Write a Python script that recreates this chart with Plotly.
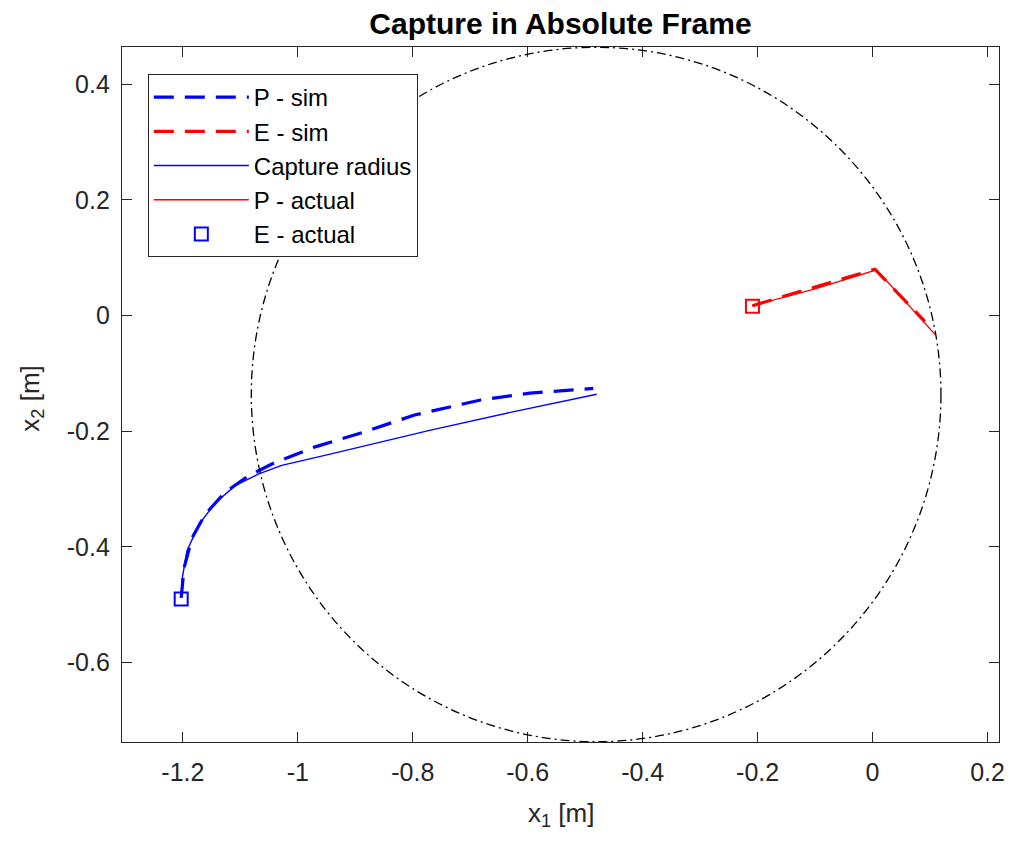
import plotly.graph_objects as go

# ---- data ----
p_sim_x = [-1.203, -1.198, -1.184, -1.161, -1.126, -1.086, -1.040, -0.970, -0.884, -0.797, -0.682, -0.596, -0.486]
p_sim_y = [-0.488, -0.436, -0.384, -0.343, -0.305, -0.277, -0.254, -0.227, -0.201, -0.172, -0.146, -0.134, -0.126]

p_act_x = [-1.203, -1.201, -1.193, -1.172, -1.143, -1.109, -1.069, -1.028, -0.942, -0.769, -0.624, -0.480]
p_act_y = [-0.488, -0.453, -0.407, -0.361, -0.323, -0.294, -0.274, -0.259, -0.239, -0.198, -0.166, -0.136]

e_sim_x = [-0.209, -0.100, 0.004, 0.091]
e_sim_y = [0.017, 0.049, 0.080, -0.010]

e_act_x = [-0.209, -0.100, 0.007, 0.109]
e_act_y = [0.017, 0.046, 0.079, -0.033]

p_start = (-1.203, -0.490)
e_start = (-0.209, 0.016)

capture_center = (-0.481, -0.1365)
capture_radius = 0.600

x_range = [-1.306, 0.220]
y_range = [-0.737, 0.464]
x_ticks = [-1.2, -1.0, -0.8, -0.6, -0.4, -0.2, 0.0, 0.2]
x_tick_text = ["-1.2", "-1", "-0.8", "-0.6", "-0.4", "-0.2", "0", "0.2"]
y_ticks = [-0.6, -0.4, -0.2, 0.0, 0.2, 0.4]
y_tick_text = ["-0.6", "-0.4", "-0.2", "0", "0.2", "0.4"]

BLUE = "#0000ff"
RED = "#ff0000"
AX = "#262626"
FONT = "Liberation Sans, Arial, sans-serif"

# page body has an 8px margin, so the figure starts at (8, 8) in the window;
# keep the page from overflowing the window
W, H = 1000, 822
PL, PR, PT, PB = 114, 3, 39, 88   # plot area in figure coordinates
plot_w = W - PL - PR
plot_h = H - PT - PB

fig = go.Figure()
fig.add_trace(go.Scatter(x=p_sim_x, y=p_sim_y, mode="lines", name="P - sim",
                         line=dict(color=BLUE, width=3.2, dash="20px,11px")))
fig.add_trace(go.Scatter(x=e_sim_x, y=e_sim_y, mode="lines", name="E - sim",
                         line=dict(color=RED, width=3.2, dash="20px,11px")))
fig.add_trace(go.Scatter(x=p_act_x, y=p_act_y, mode="lines", name="Capture radius",
                         line=dict(color=BLUE, width=1.4)))
fig.add_trace(go.Scatter(x=e_act_x, y=e_act_y, mode="lines", name="P - actual",
                         line=dict(color=RED, width=1.4)))
fig.add_trace(go.Scatter(x=[p_start[0]], y=[p_start[1]], mode="markers", name="E - actual",
                         marker=dict(symbol="square-open", size=13, color=BLUE,
                                     line=dict(width=2, color=BLUE))))
fig.add_trace(go.Scatter(x=[e_start[0]], y=[e_start[1]], mode="markers", showlegend=False,
                         marker=dict(symbol="square-open", size=13, color=RED,
                                     line=dict(width=2, color=RED))))

cx, cy = capture_center
fig.add_shape(type="circle", xref="x", yref="y",
              x0=cx - capture_radius, x1=cx + capture_radius,
              y0=cy - capture_radius, y1=cy + capture_radius,
              line=dict(color="black", width=1.3, dash="9px,4px,2px,4px"))

axis_common = dict(showline=True, linecolor=AX, linewidth=1.3, mirror="ticks",
                   ticks="inside", ticklen=10, tickcolor=AX, tickwidth=1.3,
                   showgrid=False, zeroline=False,
                   tickfont=dict(family=FONT, size=25, color=AX))

fig.update_xaxes(range=x_range, tickvals=x_ticks, ticktext=x_tick_text,
                 ticklabelstandoff=8, ticklabeloverflow="allow", **axis_common)
fig.update_yaxes(range=y_range, tickvals=y_ticks, ticktext=y_tick_text,
                 ticklabelstandoff=6, **axis_common)

fig.update_layout(
    width=W, height=H,
    margin=dict(l=PL, r=PR, t=PT, b=PB),
    plot_bgcolor="white", paper_bgcolor="white",
    font=dict(family=FONT, color=AX),
    title=dict(text="<b>Capture in Absolute Frame</b>", x=0.5, xref="paper",
               y=1 - 15 / H, yref="container", yanchor="middle",
               font=dict(family=FONT, size=30, color="black")),
    legend=dict(x=26 / plot_w, y=1 - 27 / plot_h, xanchor="left", yanchor="top",
                bgcolor="white", bordercolor=AX, borderwidth=1,
                font=dict(family=FONT, size=24, color="black"),
                tracegroupgap=0, itemwidth=95),
    annotations=[
        dict(text="x<sub>1</sub> [m]", xref="paper", yref="paper",
             x=0.5, y=-(814 - 742) / plot_h, xanchor="center", yanchor="middle",
             showarrow=False, font=dict(family=FONT, size=26, color=AX)),
        dict(text="x<sub>2</sub> [m]", xref="paper", yref="paper",
             x=-(122 - 30) / plot_w, y=(742 - 399) / plot_h, xanchor="center", yanchor="middle",
             textangle=-90, showarrow=False, font=dict(family=FONT, size=26, color=AX)),
    ],
)

fig.write_html("out.html")
